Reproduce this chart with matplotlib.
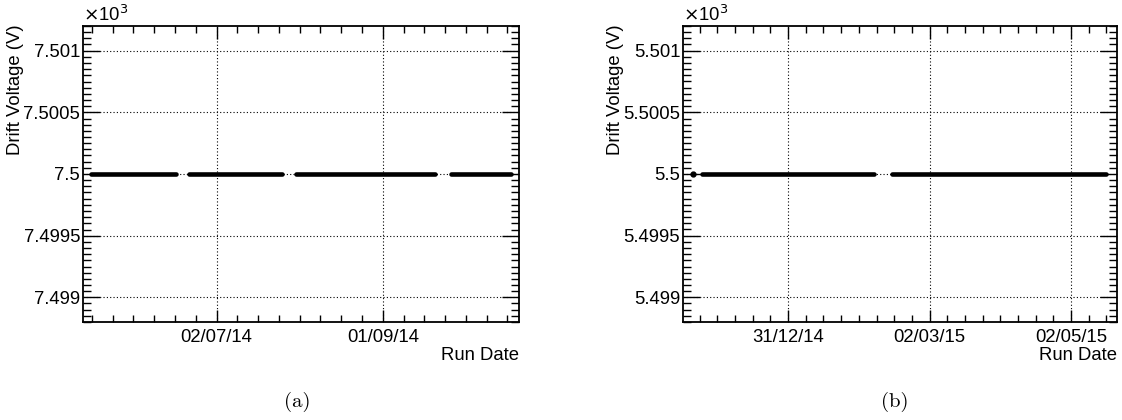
import numpy as np
import matplotlib
matplotlib.use("Agg")
import matplotlib.pyplot as plt
import matplotlib.dates as mdates
from matplotlib.ticker import FixedLocator, MultipleLocator
from datetime import datetime

# (a) 2014 run periods, drift voltage in V
a_start = ["2014-05-17", "2014-06-22", "2014-07-31", "2014-09-26"]
a_end = ["2014-06-17", "2014-07-26", "2014-09-20", "2014-10-18"]
a_volt = [7500, 7500, 7500, 7500]
a_ticks = ["2014-07-02", "2014-09-01"]
a_ticklabels = ["02/07/14", "01/09/14"]
a_xlim = ["2014-05-14", "2014-10-21"]
a_yticks = [7.499, 7.4995, 7.5, 7.5005, 7.501]
a_ylabels = ["7.499", "7.4995", "7.5", "7.5005", "7.501"]
a_ylim = [7.4988, 7.5012]

# (b) 2014/15 run periods
b_start = ["2014-11-20", "2014-11-24", "2015-02-14"]
b_end = ["2014-11-20", "2015-02-06", "2015-05-17"]
b_volt = [5500, 5500, 5500]
b_ticks = ["2014-12-31", "2015-03-02", "2015-05-02"]
b_ticklabels = ["31/12/14", "02/03/15", "02/05/15"]
b_xlim = ["2014-11-15 16:00", "2015-05-21 20:00"]
b_yticks = [5.499, 5.4995, 5.5, 5.5005, 5.501]
b_ylabels = ["5.499", "5.4995", "5.5", "5.5005", "5.501"]
b_ylim = [5.4988, 5.5012]

FONT = "Liberation Sans"
FS = 13.3
W, H = 1122, 420

fig = plt.figure(figsize=(W / 100, H / 100), dpi=100)


def todate(s):
    return mdates.date2num(np.datetime64(s, "m").astype(datetime))


def panel(rect, starts, ends, volts, ticks, ticklabels, xlim, yticks, ylabels, ylim, caption, capx):
    ax = fig.add_axes(rect)
    for s, e, v in zip(starts, ends, volts):
        x0, x1 = todate(s), todate(e)
        if x0 == x1:
            ax.plot([x0], [v / 1000], "o", color="black", ms=3.5)
        else:
            ax.hlines(v / 1000, x0, x1, color="black", lw=3.3, capstyle="round")
    ax.set_xlim(todate(xlim[0]), todate(xlim[1]))
    ax.set_ylim(*ylim)

    maj = [todate(t) for t in ticks]
    step = (maj[1] - maj[0]) / 8
    minor = np.arange(maj[0] - 40 * step, maj[-1] + 40 * step, step)
    ax.xaxis.set_major_locator(FixedLocator(maj))
    ax.xaxis.set_minor_locator(FixedLocator(minor))
    ax.set_xticklabels(ticklabels, fontfamily=FONT, fontsize=FS)
    ax.set_yticks(yticks)
    ax.set_yticklabels(ylabels, fontfamily=FONT, fontsize=FS)
    ax.yaxis.set_minor_locator(MultipleLocator(0.00005))

    ax.tick_params(which="both", direction="in", top=True, right=True, color="black")
    ax.tick_params(axis="x", which="major", length=9, width=1, pad=5)
    ax.tick_params(axis="x", which="minor", length=5, width=1)
    ax.tick_params(axis="y", which="major", length=12, width=1, pad=2)
    ax.tick_params(axis="y", which="minor", length=6, width=1)
    for sp in ax.spines.values():
        sp.set_linewidth(1.3)
    ax.grid(True, which="major", color="black", ls=(0, (1, 2)), lw=0.8)
    ax.set_axisbelow(True)

    x0p = rect[0] * W
    x1p = (rect[0] + rect[2]) * W
    ytop = (1 - rect[1] - rect[3]) * H
    fig.text(x0p / W, 1 - (ytop - 1) / H, r"$\times$10$^3$", fontfamily=FONT,
             fontsize=FS, ha="left", va="bottom")
    fig.text((x0p - 67) / W, 1 - 24 / H, "Drift Voltage (V)", fontfamily=FONT,
             fontsize=FS, rotation=90, ha="center", va="top")
    fig.text(x1p / W, 1 - 355 / H, "Run Date", fontfamily=FONT, fontsize=FS,
             ha="right", va="center")
    fig.text(capx / W, 1 - 402 / H, caption, fontfamily="cmr10", fontsize=15,
             ha="center", va="center")
    return ax


panel([83 / W, 1 - 322 / H, 436 / W, 296 / H], a_start, a_end, a_volt, a_ticks,
      a_ticklabels, a_xlim, a_yticks, a_ylabels, a_ylim, "(a)", 297)
panel([683 / W, 1 - 322 / H, 434 / W, 296 / H], b_start, b_end, b_volt, b_ticks,
      b_ticklabels, b_xlim, b_yticks, b_ylabels, b_ylim, "(b)", 895)

fig.savefig("out.png", dpi=100)
